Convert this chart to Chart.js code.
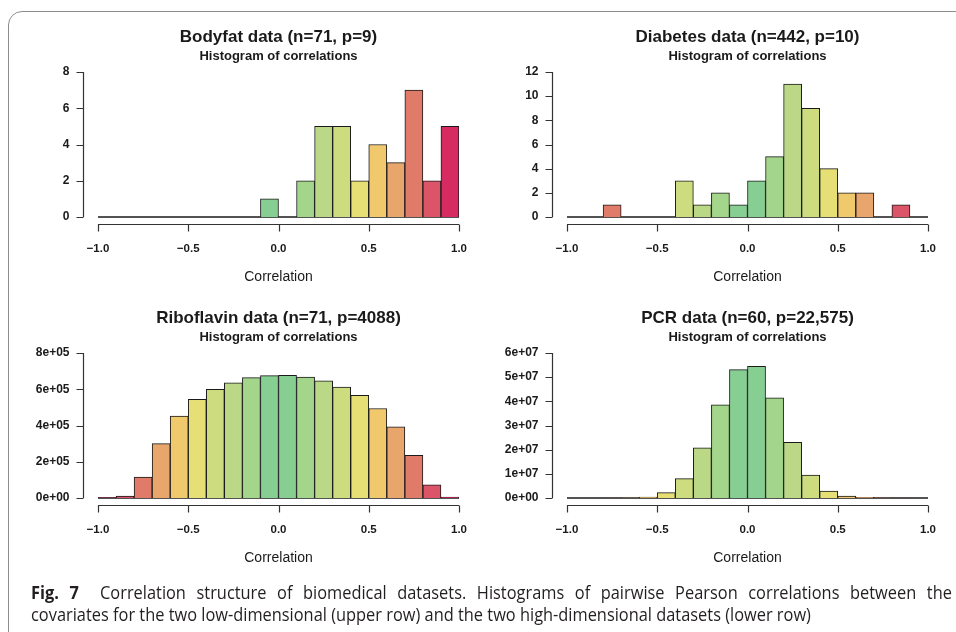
<!DOCTYPE html>
<html>
<head>
<meta charset="utf-8">
<script src="https://cdn.jsdelivr.net/npm/chart.js@4"></script>
<style>
  html, body { margin: 0; padding: 0; background: #fff; }
  body { width: 956px; height: 632px; overflow: hidden; position: relative; }
  .frame {
    position: absolute; left: 8px; top: 11px; width: 1100px; height: 800px;
    border: 1.3px solid #8c8c8c; border-radius: 14px;
  }
  .panel { position: absolute; width: 478px; height: 300px; }
  .caption {
    position: absolute; left: 31px; top: 581px; width: 1012px; white-space: nowrap;
    font-family: "Open Sans", "Noto Sans", sans-serif; font-size: 18px; line-height: 22px;
    color: #231f20; transform: scaleX(0.91); transform-origin: 0 0;
  }
  .caption .first { text-align: justify; text-align-last: justify; }
  .caption b { font-weight: 700; }
</style>
</head>
<body>
<div class="frame"></div>
<div class="panel" style="left:0;top:0"><canvas id="bodyfat" width="478" height="300"></canvas></div>
<div class="panel" style="left:478px;top:0"><canvas id="diabetes" width="478" height="300"></canvas></div>
<div class="panel" style="left:0;top:280px"><canvas id="riboflavin" width="478" height="300"></canvas></div>
<div class="panel" style="left:478px;top:280px"><canvas id="pcr" width="478" height="300"></canvas></div>
<div class="caption">
  <div class="first"><b>Fig. 7</b>&nbsp; Correlation structure of biomedical datasets. Histograms of pairwise Pearson correlations between the</div>
  <div>covariates for the two low-dimensional (upper row) and the two high-dimensional datasets (lower row)</div>
</div>

<script>
// lower edge of each correlation bin (width 0.1)
const binStarts = [-1.0, -0.9, -0.8, -0.7, -0.6, -0.5, -0.4, -0.3, -0.2, -0.1,
                    0.0,  0.1,  0.2,  0.3,  0.4,  0.5,  0.6,  0.7,  0.8,  0.9];

const bodyfatCounts = [0, 0, 0, 0, 0, 0, 0, 0, 0, 1, 0, 2, 5, 5, 2, 4, 3, 7, 2, 5];
const diabetesCounts = [0, 0, 1, 0, 0, 0, 3, 1, 2, 1, 3, 5, 11, 9, 4, 2, 2, 0, 1, 0];
const riboflavinCounts = [2000, 11000, 116000, 300000, 452000, 545000, 599000, 636000, 664000, 675000,
                          677000, 667000, 647000, 612000, 566000, 494000, 393000, 235000, 72000, 5000];
const pcrCounts = [0, 0, 10000, 80000, 400000, 2200000, 8000000, 20800000, 38600000, 53100000,
                   54500000, 41400000, 23000000, 9500000, 2900000, 800000, 250000, 50000, 10000, 0];

const xTicks = [-1, -0.5, 0, 0.5, 1];
const xTickLabels = ['\u22121.0', '\u22120.5', '0.0', '0.5', '1.0'];

const bodyfatTicks = [0, 2, 4, 6, 8];
const diabetesTicks = [0, 2, 4, 6, 8, 10, 12];
const riboflavinTicks = [0, 200000, 400000, 600000, 800000];
const riboflavinTickLabels = ['0e+00', '2e+05', '4e+05', '6e+05', '8e+05'];
const pcrTicks = [0, 10000000, 20000000, 30000000, 40000000, 50000000, 60000000];
const pcrTickLabels = ['0e+00', '1e+07', '2e+07', '3e+07', '4e+07', '5e+07', '6e+07'];

// shades by |correlation|, from 0-0.1 up to 0.9-1.0
const absShades = ['#87ce93', '#a3d68a', '#bbd886', '#cddc7e', '#e5df75',
                   '#efc96c', '#e8a66c', '#e07b6a', '#dc5468', '#d52b62'];

function binColour(start) {
  const mid = Math.abs(start + 0.05);
  return absShades[Math.min(9, Math.floor(mid * 10 + 1e-9))];
}

const FONT = '"Liberation Sans", Arial, sans-serif';
const INK = '#1a1a1a';

// R-style axes: detached from the plot region, ticks pointing outward
const rAxes = {
  id: 'rAxes',
  beforeDatasetsDraw(chart) {
    const { ctx } = chart;
    const x = chart.scales.xr, y = chart.scales.y;
    ctx.save();
    ctx.strokeStyle = INK;
    ctx.lineWidth = 1.6;
    ctx.beginPath();
    ctx.moveTo(x.getPixelForValue(-1), y.getPixelForValue(0));
    ctx.lineTo(x.getPixelForValue(1), y.getPixelForValue(0));
    ctx.stroke();
    ctx.restore();
  },
  afterDraw(chart, args, opts) {
    const { ctx, chartArea } = chart;
    const x = chart.scales.xr, y = chart.scales.y;
    const yTop = opts.yTicks[opts.yTicks.length - 1];
    const axisY = Math.round(y.getPixelForValue(-0.045 * yTop)) + 0.5;
    const axisX = Math.round(x.getPixelForValue(-1.083)) + 0.5;
    const tick = 7;
    ctx.save();
    ctx.strokeStyle = '#333';
    ctx.lineWidth = 1.2;

    // x axis
    ctx.beginPath();
    ctx.moveTo(x.getPixelForValue(-1), axisY);
    ctx.lineTo(x.getPixelForValue(1), axisY);
    xTicks.forEach(v => {
      const px = Math.round(x.getPixelForValue(v)) + 0.5;
      ctx.moveTo(px, axisY);
      ctx.lineTo(px, axisY + tick);
    });
    ctx.stroke();

    // y axis
    ctx.beginPath();
    ctx.moveTo(axisX, y.getPixelForValue(0));
    ctx.lineTo(axisX, y.getPixelForValue(yTop));
    opts.yTicks.forEach(v => {
      const py = Math.round(y.getPixelForValue(v)) + 0.5;
      ctx.moveTo(axisX, py);
      ctx.lineTo(axisX - tick, py);
    });
    ctx.stroke();

    ctx.fillStyle = INK;
    ctx.textBaseline = 'middle';
    ctx.font = 'bold 11.5px ' + FONT;
    ctx.textAlign = 'center';
    xTicks.forEach((v, i) => {
      ctx.fillText(xTickLabels[i], x.getPixelForValue(v), axisY + 24);
    });
    ctx.textAlign = 'right';
    ctx.font = 'bold 12px ' + FONT;
    opts.yTicks.forEach((v, i) => {
      ctx.fillText(opts.yLabels[i], axisX - 14, y.getPixelForValue(v));
    });

    const cx = (chartArea.left + chartArea.right) / 2;
    ctx.textAlign = 'center';
    ctx.font = '14px ' + FONT;
    ctx.fillText('Correlation', cx, y.getPixelForValue(0) + 60);
    ctx.font = 'bold 17px ' + FONT;
    ctx.fillText(opts.title, cx, chartArea.top - 35);
    ctx.font = 'bold 13px ' + FONT;
    ctx.fillText('Histogram of correlations', cx, chartArea.top - 16);
    ctx.restore();
  }
};

function histogram(id, title, counts, yTicks, yLabels, padding) {
  const yTop = yTicks[yTicks.length - 1];
  return new Chart(document.getElementById(id), {
    type: 'bar',
    data: {
      labels: binStarts.map(String),
      datasets: [{
        data: counts,
        backgroundColor: binStarts.map(binColour),
        borderColor: INK,
        borderWidth: 1,
        barPercentage: 1,
        categoryPercentage: 1
      }]
    },
    options: {
      responsive: false,
      animation: false,
      layout: { padding },
      scales: {
        x: { display: false },
        xr: { type: 'linear', display: false, offset: false, min: -1, max: 1 },
        y: { display: false, min: 0, max: yTop }
      },
      plugins: {
        legend: { display: false },
        tooltip: { enabled: false },
        rAxes: { title, yTicks, yLabels }
      }
    },
    plugins: [rAxes]
  });
}

histogram('bodyfat', 'Bodyfat data (n=71, p=9)', bodyfatCounts,
  bodyfatTicks, bodyfatTicks.map(String), { left: 98, right: 19, top: 72, bottom: 83 });
histogram('diabetes', 'Diabetes data (n=442, p=10)', diabetesCounts,
  diabetesTicks, diabetesTicks.map(String), { left: 89, right: 28, top: 72, bottom: 83 });
histogram('riboflavin', 'Riboflavin data (n=71, p=4088)', riboflavinCounts,
  riboflavinTicks, riboflavinTickLabels, { left: 98, right: 19, top: 73, bottom: 82 });
histogram('pcr', 'PCR data (n=60, p=22,575)', pcrCounts,
  pcrTicks, pcrTickLabels, { left: 89, right: 28, top: 73, bottom: 82 });
</script>
</body>
</html>
